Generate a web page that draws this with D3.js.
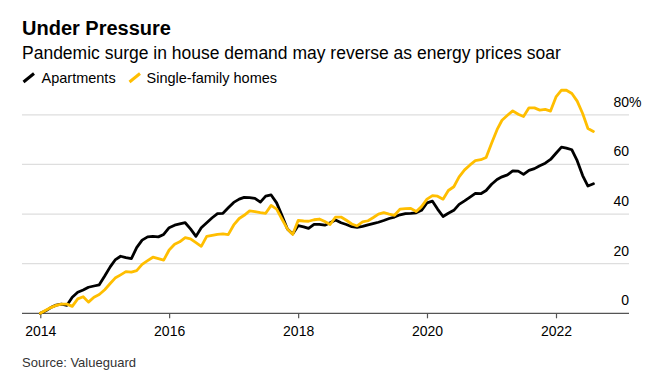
<!DOCTYPE html>
<html>
<head>
<meta charset="utf-8">
<script src="https://cdn.jsdelivr.net/npm/d3@7"></script>
<style>
  html, body { margin: 0; padding: 0; background: #fff; }
  svg { display: block; font-family: "Liberation Sans", Arial, sans-serif; }
</style>
</head>
<body>
<svg id="chart" width="672" height="380"></svg>
<script>
// ---- Data (monthly, starting January 2014; % change since Jan 2014) ----
const startYear = 2014;
const apartments = [
  0, 1, 2.3, 3.3, 3.7, 3.2, 6.5, 8.5, 9.4, 10.5, 11, 11.5,
  15, 18.7, 21.5, 23, 22.4, 22, 26.5, 29.5, 30.8, 31, 30.8, 31.8,
  34.5, 35.5, 36, 36.5, 34, 31, 34.5, 36.5, 38.5, 40.2, 40.3, 42.5,
  44.7, 46, 46.7, 46.6, 46.3, 44.8, 47.2, 47.7, 44.5, 39.5, 34, 32,
  35.3, 34.8, 34.2, 35.8, 35.8, 35.5, 36.5, 37.6, 36.5, 35.8, 34.9, 34.6,
  35, 35.6, 36.1, 36.7, 37.4, 38.2, 38.8, 39.7, 40.2, 40.3, 40.5, 41.5,
  44.5, 45.2, 42, 39, 40.3, 41.5, 43.9, 45.3, 46.8, 48.3, 48.2, 49.5,
  52, 53.9, 55, 55.8, 57.4, 57.3, 56, 57.6, 58.3, 59.5, 60.5, 62,
  64.5, 67, 66.6, 65.9, 61.5, 55.5, 51.3, 52.2
];
const singleFamily = [
  0, 1.2, 2.3, 3.2, 3.7, 3.7, 2.8, 5.8, 6.7, 4.5, 6.5, 7.6,
  9.5, 12, 14.2, 15.5, 16.8, 16.6, 17.2, 19.7, 21.2, 22.6, 22, 21.4,
  25.5, 27.8, 28.8, 30.5, 30, 28.5, 27, 31, 31.4, 31.8, 32, 31.7,
  35.6, 38.2, 39.5, 41.3, 41, 40.6, 40.3, 43.5, 42, 38, 34, 31.8,
  37.4, 37.2, 37.1, 37.7, 38, 37, 35.8, 38.8, 38.8, 37.5, 36, 35.2,
  36.8, 37.3, 38.5, 40, 40.6, 40, 39.5, 42, 42.2, 42.3, 41, 43,
  46, 47.4, 47.2, 46, 49.5, 51, 55, 57.8, 59.8, 61.5, 61.9, 62.8,
  68.5, 74, 77.8, 79.8, 81.6, 80.2, 79.3, 82.8, 82.8, 81.9, 82.2, 81.5,
  87.2, 89.9, 89.9, 88.6, 85.5, 80.5, 74.5, 73.3
];
const seriesNames = ["Apartments", "Single-family homes"];
const seriesColors = ["#000000", "#ffbe00"];
const yTicks = [0, 20, 40, 60, 80];
const xTickYears = [2014, 2016, 2018, 2020, 2022];
const title = "Under Pressure";
const subtitle = "Pandemic surge in house demand may reverse as energy prices soar";
const source = "Source: Valueguard";

// ---- Layout ----
const svg = d3.select("#chart");
const gridLeft = 22, gridRight = 629;

const x = d3.scaleTime()
  .domain([new Date(2014, 0, 1), new Date(2022, 0, 1)])
  .range([40.3, 556]);
const y = d3.scaleLinear()
  .domain([0, 80])
  .range([313.3, 114.8]);

const dateOf = i => new Date(startYear, i, 1);

// Titles
svg.append("text").attr("x", 22).attr("y", 35)
  .attr("font-size", 20).attr("font-weight", "bold").attr("fill", "#000")
  .text(title);
svg.append("text").attr("x", 22).attr("y", 58.5)
  .attr("font-size", 17.5).attr("fill", "#000")
  .text(subtitle);

// Legend
const legendItems = [
  { name: seriesNames[0], color: seriesColors[0], x0: 23.5, tx: 41.5 },
  { name: seriesNames[1], color: seriesColors[1], x0: 129.5, tx: 146.5 }
];
legendItems.forEach(d => {
  svg.append("line")
    .attr("x1", d.x0).attr("y1", 82).attr("x2", d.x0 + 10.5).attr("y2", 73.5)
    .attr("stroke", d.color).attr("stroke-width", 3).attr("stroke-linecap", "butt");
  svg.append("text").attr("x", d.tx).attr("y", 82.5)
    .attr("font-size", 14.5).attr("fill", "#000").text(d.name);
});

// Gridlines
svg.append("g").selectAll("line.grid")
  .data(yTicks.filter(v => v !== 0))
  .join("line")
  .attr("x1", gridLeft).attr("x2", gridRight)
  .attr("y1", d => y(d)).attr("y2", d => y(d))
  .attr("stroke", "#dedede").attr("stroke-width", 1.2);

// Y labels (numbers right-aligned, % hanging)
const yl = svg.append("g").attr("font-size", 14).attr("fill", "#000");
yTicks.forEach((v, i) => {
  yl.append("text").attr("x", gridRight).attr("y", y(v) - 8)
    .attr("text-anchor", "end").text(String(v));
  if (i === yTicks.length - 1) {
    yl.append("text").attr("x", gridRight).attr("y", y(v) - 8)
      .attr("text-anchor", "start").text("%");
  }
});

// X axis
const xAxis = d3.axisBottom(x)
  .tickValues(xTickYears.map(yr => new Date(yr, 0, 1)))
  .tickFormat(d3.timeFormat("%Y"))
  .tickSize(5).tickSizeOuter(0).tickPadding(8);
const gx = svg.append("g").attr("transform", `translate(0,${y(0)})`).call(xAxis);
gx.select(".domain").remove();
gx.insert("line", ":first-child")
  .attr("x1", gridLeft).attr("x2", gridRight).attr("y1", 0).attr("y2", 0)
  .attr("stroke", "#555").attr("stroke-width", 1.2);
gx.selectAll(".tick line").attr("stroke", "#555").attr("stroke-width", 1.2);
gx.selectAll(".tick text")
  .attr("font-size", 14).attr("fill", "#000")
  .attr("font-family", "Liberation Sans, Arial, sans-serif");

// Lines
const line = d3.line()
  .x((d, i) => x(dateOf(i)))
  .y(d => y(d))
  .curve(d3.curveLinear);

[apartments, singleFamily].forEach((arr, k) => {
  svg.append("path")
    .datum(arr)
    .attr("fill", "none")
    .attr("stroke", seriesColors[k])
    .attr("stroke-width", 2.8)
    .attr("stroke-linejoin", "round")
    .attr("stroke-linecap", "round")
    .attr("d", line);
});

// Source
svg.append("text").attr("x", 22).attr("y", 366.5)
  .attr("font-size", 13).attr("fill", "#333").text(source);
</script>
</body>
</html>
